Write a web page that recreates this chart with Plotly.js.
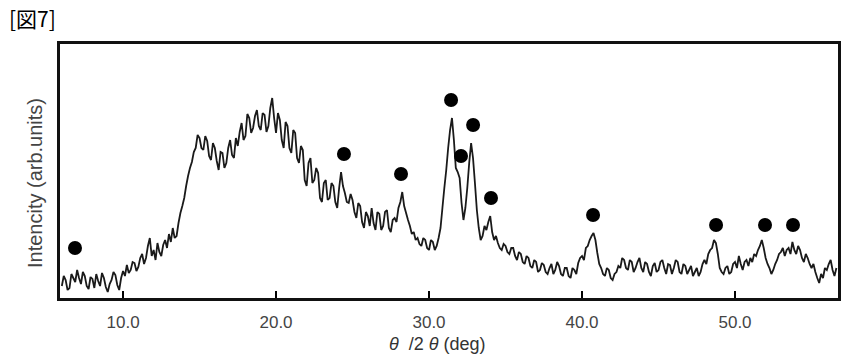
<!DOCTYPE html>
<html>
<head>
<meta charset="utf-8">
<script src="https://cdn.plot.ly/plotly-3.0.1.min.js"></script>
<style>html,body{margin:0;padding:0;background:#fff;}#chart{width:846px;height:359px;}</style>
</head>
<body>
<div id="chart"></div>
<script>
// 2θ positions (deg) of the measured pattern
const twoTheta = [
6.000,6.125,6.250,6.375,6.500,6.625,6.750,6.875,7.000,7.125,7.250,7.375,7.500,7.625,7.750,7.875,
8.000,8.125,8.250,8.375,8.500,8.625,8.750,8.875,9.000,9.125,9.250,9.375,9.500,9.625,9.750,9.875,
10.000,10.125,10.250,10.375,10.500,10.625,10.750,10.875,11.000,11.125,11.250,11.375,11.500,11.625,11.750,11.875,
12.000,12.125,12.250,12.375,12.500,12.625,12.750,12.875,13.000,13.125,13.250,13.375,13.500,13.625,13.750,13.875,
14.000,14.125,14.250,14.375,14.500,14.625,14.750,14.875,15.000,15.125,15.250,15.375,15.500,15.625,15.750,15.875,
16.000,16.125,16.250,16.375,16.500,16.625,16.750,16.875,17.000,17.125,17.250,17.375,17.500,17.625,17.750,17.875,
18.000,18.125,18.250,18.375,18.500,18.625,18.750,18.875,19.000,19.125,19.250,19.375,19.500,19.625,19.750,19.875,
20.000,20.125,20.250,20.375,20.500,20.625,20.750,20.875,21.000,21.125,21.250,21.375,21.500,21.625,21.750,21.875,
22.000,22.125,22.250,22.375,22.500,22.625,22.750,22.875,23.000,23.125,23.250,23.375,23.500,23.625,23.750,23.875,
24.000,24.125,24.250,24.375,24.500,24.625,24.750,24.875,25.000,25.125,25.250,25.375,25.500,25.625,25.750,25.875,
26.000,26.125,26.250,26.375,26.500,26.625,26.750,26.875,27.000,27.125,27.250,27.375,27.500,27.625,27.750,27.875,
28.000,28.125,28.250,28.375,28.500,28.625,28.750,28.875,29.000,29.125,29.250,29.375,29.500,29.625,29.750,29.875,
30.000,30.125,30.250,30.375,30.500,30.625,30.750,30.875,31.000,31.125,31.250,31.375,31.500,31.625,31.750,31.875,
32.000,32.125,32.250,32.375,32.500,32.625,32.750,32.875,33.000,33.125,33.250,33.375,33.500,33.625,33.750,33.875,
34.000,34.125,34.250,34.375,34.500,34.625,34.750,34.875,35.000,35.125,35.250,35.375,35.500,35.625,35.750,35.875,
36.000,36.125,36.250,36.375,36.500,36.625,36.750,36.875,37.000,37.125,37.250,37.375,37.500,37.625,37.750,37.875,
38.000,38.125,38.250,38.375,38.500,38.625,38.750,38.875,39.000,39.125,39.250,39.375,39.500,39.625,39.750,39.875,
40.000,40.125,40.250,40.375,40.500,40.625,40.750,40.875,41.000,41.125,41.250,41.375,41.500,41.625,41.750,41.875,
42.000,42.125,42.250,42.375,42.500,42.625,42.750,42.875,43.000,43.125,43.250,43.375,43.500,43.625,43.750,43.875,
44.000,44.125,44.250,44.375,44.500,44.625,44.750,44.875,45.000,45.125,45.250,45.375,45.500,45.625,45.750,45.875,
46.000,46.125,46.250,46.375,46.500,46.625,46.750,46.875,47.000,47.125,47.250,47.375,47.500,47.625,47.750,47.875,
48.000,48.125,48.250,48.375,48.500,48.625,48.750,48.875,49.000,49.125,49.250,49.375,49.500,49.625,49.750,49.875,
50.000,50.125,50.250,50.375,50.500,50.625,50.750,50.875,51.000,51.125,51.250,51.375,51.500,51.625,51.750,51.875,
52.000,52.125,52.250,52.375,52.500,52.625,52.750,52.875,53.000,53.125,53.250,53.375,53.500,53.625,53.750,53.875,
54.000,54.125,54.250,54.375,54.500,54.625,54.750,54.875,55.000,55.125,55.250,55.375,55.500,55.625,55.750,55.875,
56.000,56.125,56.250,56.375,56.500,56.625
];
// Intensity (arb. units)
const intensity = [
12,22,18,8,10,24,20,16,28,20,14,26,22,12,9,21,
19,10,24,17,12,25,20,11,6,14,18,26,23,13,8,20,
27,22,33,25,28,36,35,27,31,40,44,34,40,52,60,42,
48,38,55,46,42,53,58,50,64,56,70,60,62,75,85,92,
100,112,122,130,136,146,150,163,160,150,148,162,157,142,138,155,
150,137,128,146,145,130,135,150,158,143,140,160,152,166,175,158,
162,184,180,165,170,182,188,172,168,185,183,166,172,190,200,180,
165,185,178,158,150,176,172,150,145,168,165,140,135,152,148,118,
112,135,140,115,118,130,125,100,96,115,118,98,100,115,112,96,
90,110,126,112,105,96,95,104,98,86,80,95,92,76,70,86,
82,72,90,75,68,86,84,68,72,86,88,70,66,78,80,76,
90,96,106,92,85,78,72,64,66,58,60,54,52,60,58,50,
48,58,56,48,52,60,70,90,110,128,150,168,180,158,130,126,
120,95,78,90,110,135,155,140,115,88,70,58,62,72,68,76,
82,66,58,62,55,50,48,54,52,46,44,50,50,42,38,46,
44,36,34,42,40,32,30,38,36,26,28,35,33,26,24,30,
34,24,28,36,32,24,22,30,30,22,20,30,28,24,35,40,
42,38,50,52,58,62,65,58,45,34,30,24,22,30,28,20,
18,24,26,32,30,40,38,30,28,38,36,26,30,36,40,30,
26,36,34,26,22,32,35,26,28,36,38,30,24,34,33,24,
30,38,36,26,24,34,32,24,28,32,22,26,30,22,26,34,
38,34,44,48,50,58,55,44,30,26,24,30,32,24,26,34,
36,30,42,34,28,36,38,32,40,36,44,42,48,52,58,50,
40,34,30,24,28,34,38,44,46,50,42,48,50,44,56,48,
44,52,48,40,36,44,40,34,30,34,26,20,15,24,20,30,
28,34,38,28,22,30
];
// Peak markers (●)
const peakTheta = [6.86,24.44,28.17,31.44,32.09,32.88,34.05,40.72,48.76,51.96,53.79];
const peakMark  = [50,144,124,198,142,173,100,83,73,73,73];
const tickVals = [10,20,30,40,50];
const tickText = ["10.0","20.0","30.0","40.0","50.0"];

const traces = [
  {x: twoTheta, y: intensity, type: 'scatter', mode: 'lines',
   line: {color: '#1a1a1a', width: 1.8, simplify: false}, hoverinfo: 'skip', showlegend: false},
  {x: peakTheta, y: peakMark, type: 'scatter', mode: 'markers',
   marker: {color: '#000', size: 14}, hoverinfo: 'skip', showlegend: false}
];

const layout = {
  width: 846, height: 359,
  margin: {l: 60, r: 8, t: 44, b: 61},
  paper_bgcolor: '#fff', plot_bgcolor: '#fff',
  font: {family: 'Liberation Sans, Arial, sans-serif', color: '#333'},
  showlegend: false,
  xaxis: {
    range: [5.88, 56.73], tickvals: tickVals, ticktext: tickText,
    ticks: 'inside', ticklen: 7, tickwidth: 1.5, tickcolor: '#000',
    ticklabelstandoff: 7,
    showline: true, linecolor: '#111', linewidth: 3, mirror: true,
    showgrid: false, zeroline: false,
    tickfont: {size: 17, color: '#444'}
  },
  yaxis: {
    range: [0, 254], showticklabels: false, ticks: '',
    showline: true, linecolor: '#111', linewidth: 3, mirror: true,
    showgrid: false, zeroline: false
  },
  annotations: [
    {text: '[図7]', xref: 'paper', yref: 'paper', x: -0.068, y: 1.102,
     xanchor: 'left', yanchor: 'middle', showarrow: false,
     font: {family: 'Noto Sans CJK JP, sans-serif', size: 21, color: '#000'}},
    {text: '<i>θ</i>  /2 <i>θ</i> (deg)', xref: 'paper', yref: 'paper', x: 0.4846, y: -0.18,
     xanchor: 'center', yanchor: 'middle', showarrow: false,
     font: {size: 18, color: '#333'}},
    {text: 'Intencity (arb.units)', xref: 'paper', yref: 'paper', x: -0.032, y: 0.453,
     xanchor: 'center', yanchor: 'middle', showarrow: false, textangle: -90,
     font: {size: 20, color: '#444'}}
  ]
};

Plotly.newPlot('chart', traces, layout, {displayModeBar: false, staticPlot: true});
</script>
</body>
</html>
